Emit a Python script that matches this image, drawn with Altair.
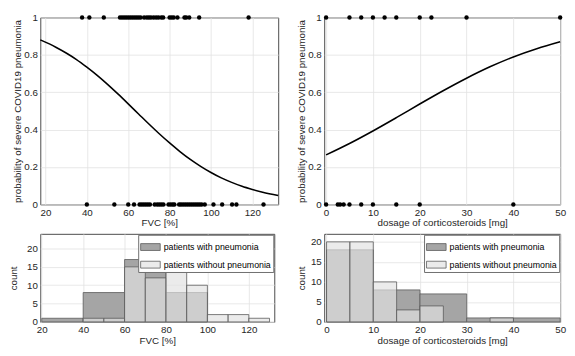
import altair as alt
import pandas as pd

# ---------------- data ----------------
# logistic panel 1: FVC
fvc_pneu_x = [37.7, 41.2, 48.2, 56, 57, 58, 59, 60, 61, 62, 63, 64, 65, 66, 67.7, 69, 70,
              71, 72.3, 73.5, 74.6, 76, 76.9, 80, 81, 82, 83.8, 87.2, 88, 89.5, 94.3, 118.2]
fvc_nopneu_x = [40, 53.3, 60, 62.8, 65.5, 66.5, 67.5, 68.5, 69.5, 70.5, 72.8, 74, 75, 76, 77,
                79.5, 80.5, 81.5, 82.3, 84.6, 85.5, 86.5, 87.5, 88.5, 89.5, 90.5, 91.5, 92.5,
                93.5, 94.5, 95.5, 97, 101.2, 105.4, 110.2, 112.3, 125.4]
fvc_curve_x = [17.5, 25, 30, 35, 40, 45, 50, 55, 60, 65, 70, 75, 80, 85, 90, 95, 100, 105,
               110, 115, 120, 125, 132.5]
fvc_curve_p = [0.880, 0.841, 0.810, 0.775, 0.734, 0.690, 0.642, 0.591, 0.538, 0.484, 0.430,
               0.378, 0.329, 0.283, 0.241, 0.204, 0.171, 0.142, 0.118, 0.097, 0.080, 0.065, 0.048]

# logistic panel 2: corticosteroid dosage
dose_pneu_x = [0, 5, 7.5, 10, 12.5, 15, 20, 22.5, 30, 50]
dose_nopneu_x = [0, 2.5, 3, 3.75, 5, 7.5, 10, 15, 20, 40]
dose_curve_x = [0, 5, 10, 15, 20, 25, 30, 35, 40, 45, 50]
dose_curve_p = [0.265, 0.326, 0.393, 0.464, 0.537, 0.608, 0.675, 0.736, 0.789, 0.833, 0.870]

# histograms
fvc_with_edges = [20, 40, 60, 80, 100]
fvc_with_counts = [1, 8, 17, 8]
fvc_without_edges = [40, 50, 60, 70, 80, 90, 100, 110, 120, 130]
fvc_without_counts = [1, 1, 15, 12, 14, 10, 2, 2, 1]

dose_with_edges = [0, 10, 20, 30, 40, 50]
dose_with_counts = [18, 8, 7, 1, 1]
dose_without_edges = [0, 5, 10, 15, 20, 25, 30, 35, 40]
dose_without_counts = [20, 20, 10, 3, 4, 0, 0, 1]

groups = ["patients with pneumonia", "patients without pneumonia"]
ytitle = "probability of severe COVID19 pneumonia"

FONT = "Liberation Sans"
TXT = "#262626"


def logistic_panel(pos_x, neg_x, cx, cp, xdom, xticks, xtitle, width, height, ext):
    dots = pd.DataFrame({"x": pos_x + neg_x, "p": [1] * len(pos_x) + [0] * len(neg_x)})
    curve = pd.DataFrame({"x": cx, "p": cp})
    x = alt.X("x:Q", scale=alt.Scale(domain=xdom, nice=False, zero=False),
              axis=alt.Axis(values=xticks, title=xtitle, format="d"))
    y = alt.Y("p:Q", scale=alt.Scale(domain=[0, 1], nice=False),
              axis=alt.Axis(values=[0, 0.2, 0.4, 0.6, 0.8, 1], format="~g", title=ytitle,
                            minExtent=ext, maxExtent=ext))
    line = alt.Chart(curve).mark_line(color="black", strokeWidth=1.6,
                                      interpolate="monotone").encode(x=x, y=y)
    pts = alt.Chart(dots).mark_circle(color="black", size=20, opacity=1).encode(x=x, y=y)
    return alt.layer(line, pts).properties(width=width, height=height)


def hist_panel(we, wc, ne, nc, xdom, xticks, ydom, xtitle, width, height, ext):
    rows = []
    for i, c in enumerate(wc):
        if c > 0:
            rows.append({"x0": we[i], "x1": we[i + 1], "n": c, "g": groups[0]})
    for i, c in enumerate(nc):
        if c > 0:
            rows.append({"x0": ne[i], "x1": ne[i + 1], "n": c, "g": groups[1]})
    df = pd.DataFrame(rows)
    return alt.Chart(df).mark_bar(stroke="#5a5a5a", strokeWidth=0.8).encode(
        x=alt.X("x0:Q", scale=alt.Scale(domain=xdom, nice=False, zero=False),
                axis=alt.Axis(values=xticks, title=xtitle, format="d")),
        x2="x1:Q",
        y=alt.Y("n:Q", stack=None, scale=alt.Scale(domain=ydom, nice=False),
                axis=alt.Axis(values=[0, 5, 10, 15, 20], title="count",
                              minExtent=ext, maxExtent=ext)),
        y2=alt.datum(0),
        color=alt.Color("g:N",
                        scale=alt.Scale(domain=groups,
                                        range=["#a5a5a5", "rgba(226,226,226,0.68)"]),
                        legend=alt.Legend(title=None, orient="top-right", offset=1,
                                          fillColor="white", strokeColor="#6e6e6e",
                                          padding=2, rowPadding=2,
                                          symbolType="M-1,-0.35H1V0.35H-1Z",
                                          symbolSize=400, symbolStrokeColor="#5a5a5a",
                                          symbolStrokeWidth=0.8, labelFontSize=9,
                                          labelFont=FONT, labelColor="black",
                                          labelOffset=3)),
    ).properties(width=width, height=height)


WL, WR, H1, H2 = 243, 241, 191, 90

topL = logistic_panel(fvc_pneu_x, fvc_nopneu_x, fvc_curve_x, fvc_curve_p, [17.5, 132.5],
                      [20, 40, 60, 80, 100, 120], "FVC [%]", WL, H1, 17)
topR = logistic_panel(dose_pneu_x, dose_nopneu_x, dose_curve_x, dose_curve_p, [-0.4, 50],
                      [0, 10, 20, 30, 40, 50], "dosage of corticosteroids [mg]", WR, H1, 17)
histL = hist_panel(fvc_with_edges, fvc_with_counts, fvc_without_edges, fvc_without_counts,
                   [19.3, 132.3], [20, 40, 60, 80, 100, 120], [0, 24], "FVC [%]",
                   WL - 4, H2, 21)
histR = hist_panel(dose_with_edges, dose_with_counts, dose_without_edges, dose_without_counts,
                   [-0.5, 50], [0, 10, 20, 30, 40, 50], [0, 22],
                   "dosage of corticosteroids [mg]", WR, H2, 17)

chart = alt.concat(topL, topR, histL, histR, columns=2, align="none",
                   spacing=alt.RowColnumber(row=4, column=14)).resolve_scale(
    color="independent").properties(padding=0).configure_axis(
    labelFont=FONT, titleFont=FONT, labelFontSize=10, titleFontSize=10,
    titleFontWeight="normal", labelColor=TXT, titleColor=TXT,
    grid=True, gridColor="#e2e2e2", gridWidth=0.8, domain=False, ticks=False,
    labelPadding=3, titlePadding=1, labelFlush=False
).configure_view(stroke="#4a4a4a", strokeWidth=1)

chart.save("out.html", embed_options={"renderer": "svg", "actions": False})
